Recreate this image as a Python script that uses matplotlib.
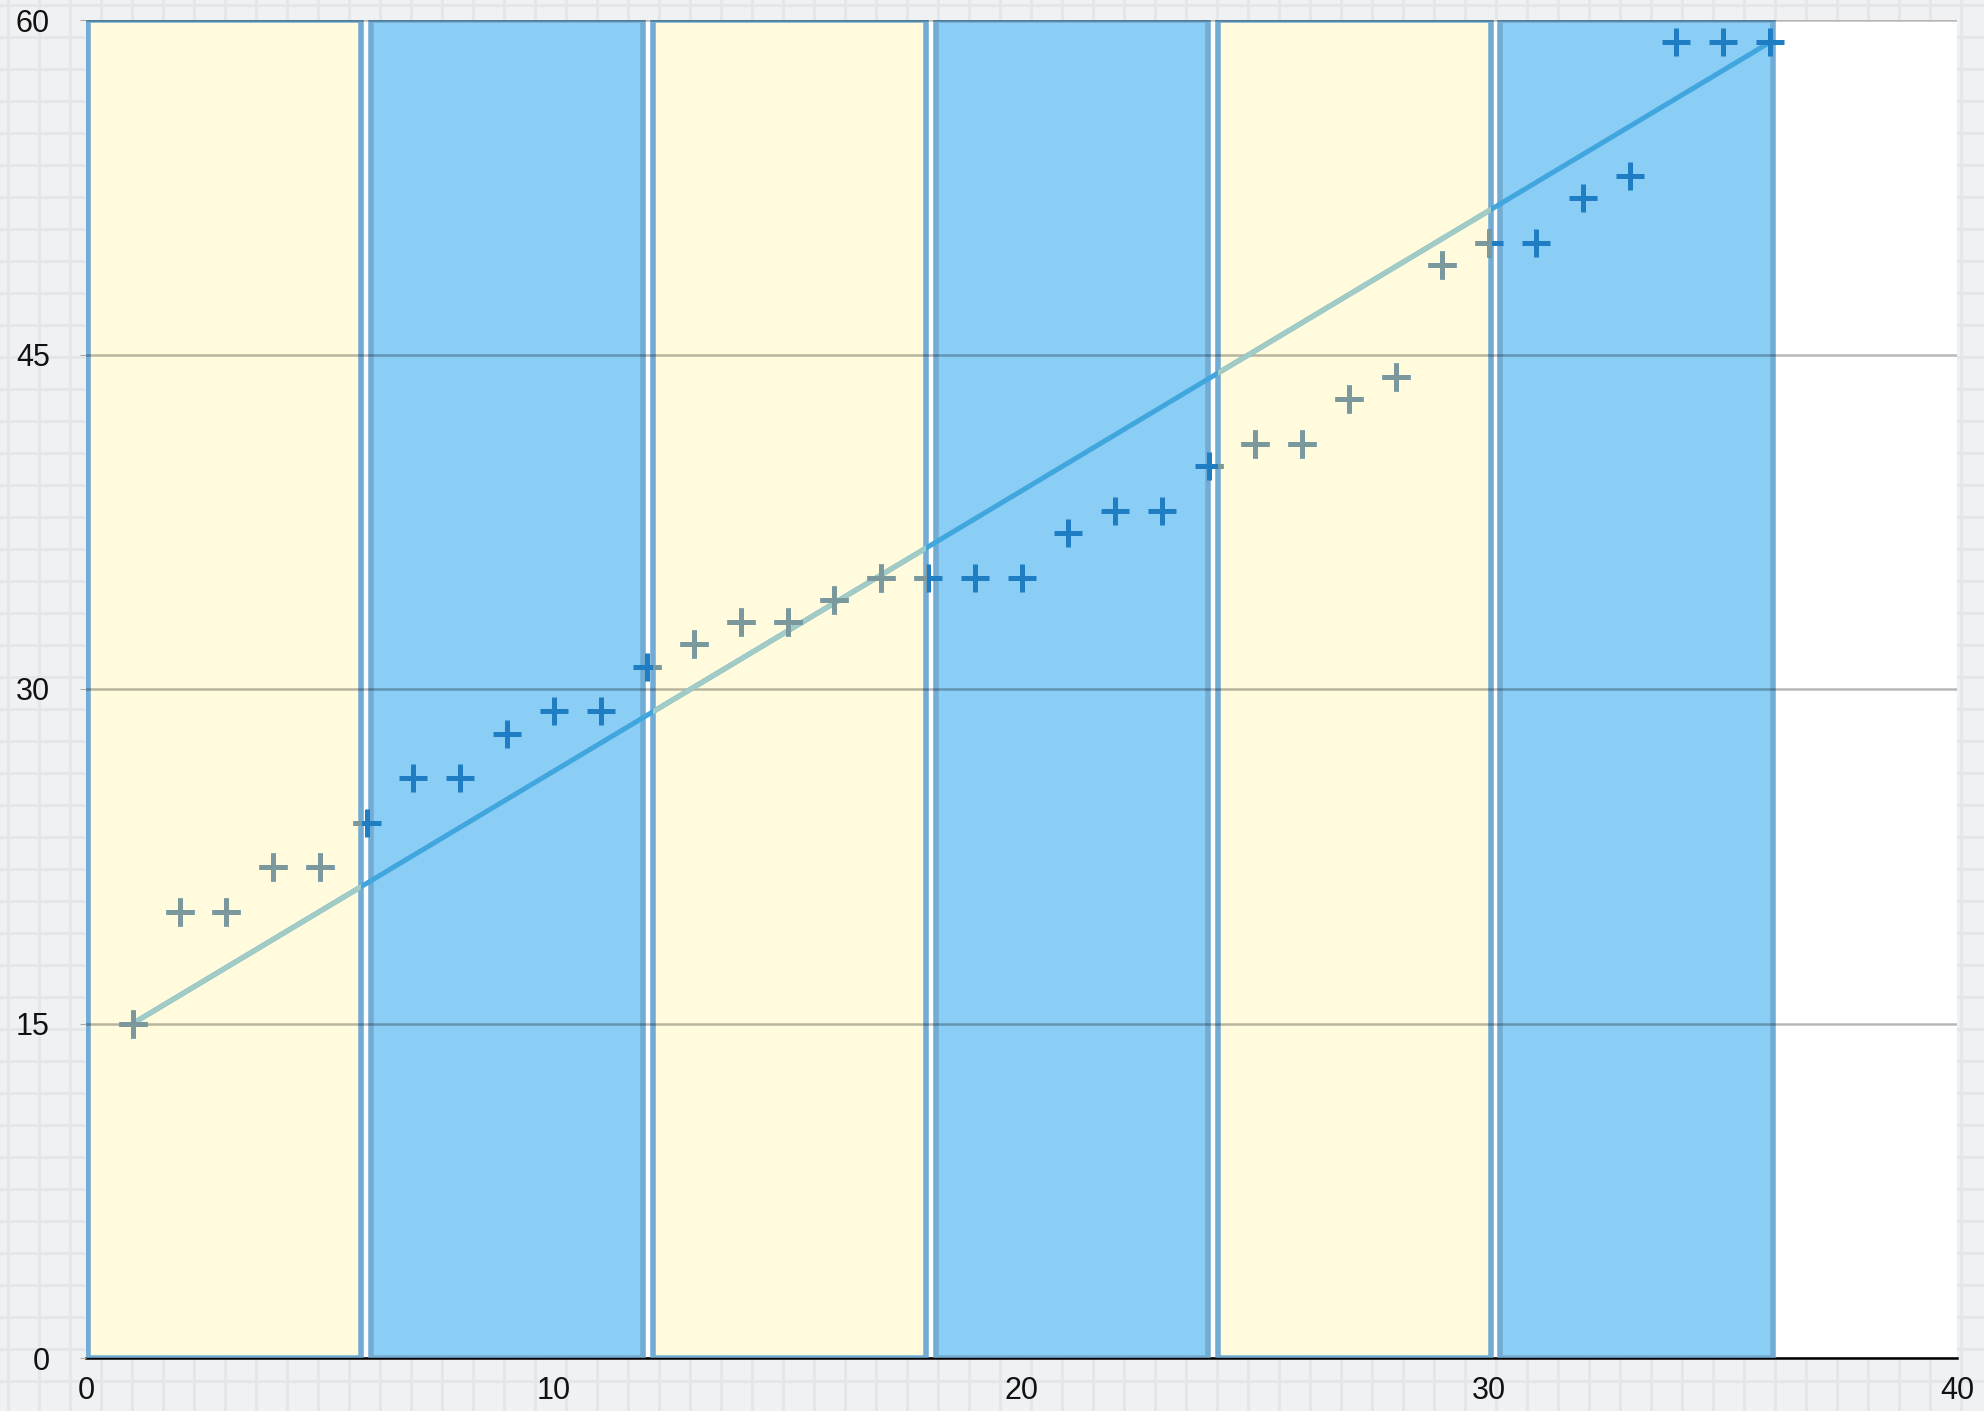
import numpy as np
import matplotlib
matplotlib.use("Agg")
import matplotlib.pyplot as plt

# data
x_vals = list(range(1, 37))
y_vals = [15, 20, 20, 22, 22, 24, 26, 26, 28, 29, 29, 31,
          32, 33, 33, 34, 35, 35, 35, 35, 37, 38, 38, 40,
          41, 41, 43, 44, 49, 50, 50, 52, 53, 59, 59, 59]
trend_x = [1, 36]
trend_y = [15, 59]
band_heights = [60, 60, 60, 60, 60, 60]
band_kind = ['y', 'b', 'y', 'b', 'y', 'b']
x_ticks = [0, 10, 20, 30, 40]
y_ticks = [0, 15, 30, 45, 60]

plt.rcParams['font.family'] = ['Liberation Sans', 'DejaVu Sans']

W, H = 1984, 1411
fig = plt.figure(figsize=(W / 100, H / 100), dpi=100)
fig.patch.set_facecolor('#f0f1f3')

# graph paper backdrop
bg = fig.add_axes([0, 0, 1, 1], zorder=-10)
bg.set_xlim(0, W)
bg.set_ylim(H, 0)
bg.axis('off')
for p in np.arange(8, W, 31):
  bg.axvline(p, color='#e3e7ea', lw=2.2)
for p in np.arange(5, H, 32):
  bg.axhline(p, color='#e3e7ea', lw=2.2)

rect = [86 / W, 1 - 1358 / H, 1871 / W, 1338 / H]

# band layer (its own category scale)
axb = fig.add_axes(rect, zorder=1)
axb.set_facecolor('white')
axb.set_xlim(-0.491, 6.134)
axb.set_ylim(0, 60)
for s in ['top', 'left', 'right']:
  axb.spines[s].set_visible(False)
axb.spines['bottom'].set_color('black')
axb.spines['bottom'].set_linewidth(1.8)
axb.set_xticks([])
axb.set_yticks([])
fills = {'y': '#fffbdc', 'b': '#8acef6'}
bars = axb.bar(range(len(band_heights)), band_heights, width=0.965,
               color=[fills[k] for k in band_kind],
               edgecolor='#72acd4', linewidth=4.0, zorder=3)

# data layer
ax = fig.add_axes(rect, zorder=2)
ax.patch.set_visible(False)
ax.set_xlim(0, 40)
ax.set_ylim(0, 60)
for s in ax.spines.values():
  s.set_visible(False)
ax.set_xticks(x_ticks)
ax.set_yticks(y_ticks)
ax.tick_params(axis='x', length=0, pad=13, labelsize=22, labelcolor='#111111')
ax.tick_params(axis='y', length=4, color='#aaaaaa', pad=22, labelsize=22,
               labelcolor='#111111')
ax.grid(axis='y', color='black', alpha=0.28, lw=1.8)
ax.grid(axis='x', visible=False)
ax.set_axisbelow(False)

ax.plot(trend_x, trend_y, color='#42a6de', lw=3.6, solid_capstyle='butt', zorder=3)
ax.plot(x_vals, y_vals, ls='none', marker='+', ms=20, mew=3.6,
        color='#1f7dc4', zorder=4)

for b, k in zip(bars, band_kind):
  if k != 'y':
    continue
  l1, = ax.plot(trend_x, trend_y, color='#a2cbc5', lw=3.6,
                solid_capstyle='butt', zorder=3)
  l1.set_clip_path(b)
  l2, = ax.plot(x_vals, y_vals, ls='none', marker='+', ms=20, mew=3.6,
                color='#7b989d', zorder=4)
  l2.set_clip_path(b)

fig.savefig('out.png', dpi=100, facecolor=fig.get_facecolor())
